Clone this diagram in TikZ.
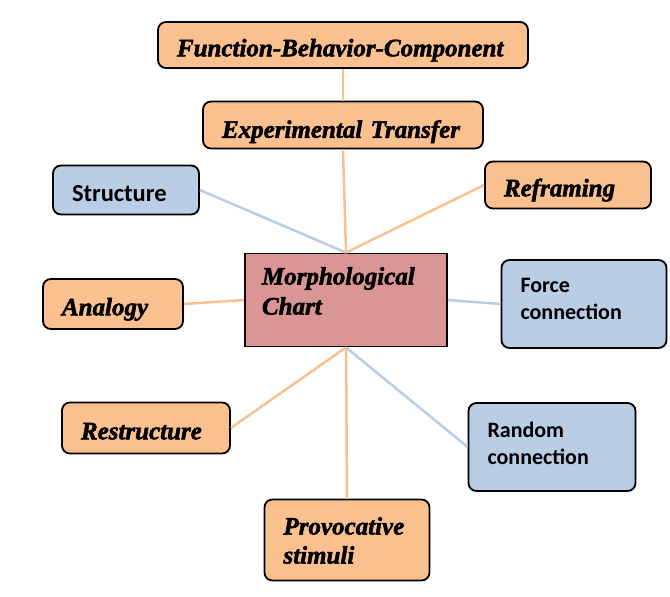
\documentclass[tikz,border=0pt]{standalone}
\usepackage{fontspec}
\setmainfont{Liberation Serif}[BoldItalicFeatures={FakeBold=2}]
\newfontfamily\calibri{Carlito}
\usetikzlibrary{positioning}
\definecolor{peach}{HTML}{FAC090}
\definecolor{steel}{HTML}{B9CDE5}
\definecolor{rose}{HTML}{D99694}

\begin{document}
\begin{tikzpicture}[
  x=1pt,y=-1pt,
  box/.style={draw=black,line width=1.8pt,rounded corners=8pt,align=left,
              inner xsep=19pt,inner ysep=0pt},
  oneline/.style={text height=27pt,text depth=4.5pt},
  method/.style={box,fill=peach,
                 font=\bfseries\itshape\fontsize{25}{29}\selectfont},
  link/.style={box,fill=steel,font=\calibri\bfseries\fontsize{22}{27}\selectfont},
  hub/.style={box,rounded corners=0pt,fill=rose,inner xsep=17pt,
              font=\bfseries\itshape\fontsize{25}{30}\selectfont},
  warm/.style={draw=peach,line width=2.5pt},
  cool/.style={draw=steel,line width=2.5pt}
]
\useasboundingbox (0,0) rectangle (670,597);

\node[hub,text width=168pt,minimum height=93pt,text height=18pt,
  text depth=49pt] (chart) at (346,300) {Morphological\\Chart};

\node[method,oneline,text width=332pt,minimum height=46pt] (fbc) at (343,45)
  {Function-Behavior-Component};
\node[method,oneline,text width=242pt,minimum height=47pt,text height=30pt]
  (transfer) at (343,125) {Experimental Transfer};
\node[link,oneline,text width=108pt,minimum height=49pt,
  font=\calibri\bfseries\fontsize{24.5}{28}\selectfont] (structure)
  at (126,190) {Structure};
\node[method,oneline,text width=128pt,minimum height=47pt] (reframing)
  at (568,185) {Reframing};
\node[method,oneline,text width=102pt,minimum height=50pt] (analogy)
  at (113,304) {Analogy};
\node[link,text width=127pt,minimum height=88pt,text height=18pt,
  text depth=42pt] (force) at (584,304) {Force\\connection};
\node[method,oneline,text width=130pt,minimum height=51pt] (restructure)
  at (146,428) {Restructure};
\node[link,text width=129pt,minimum height=88pt,text height=18pt,
  text depth=38pt] (random) at (552,447) {Random\\connection};
\node[method,text width=127pt,minimum height=81pt,text height=18pt,
  text depth=29pt] (provocative) at (347,540) {Provocative\\stimuli};

% spokes meet at the top and bottom middle of the chart
\draw[warm] (fbc.south) -- (transfer.north);
\draw[warm] (transfer.south) -- (chart.north);
\draw[cool] (structure.east) -- (chart.north);
\draw[warm] (reframing.west) -- (chart.north);
\draw[warm] (analogy.east) -- (chart.west);
\draw[cool] (force.west) -- (chart.east);
\draw[warm] (chart.south) -- (restructure.east);
\draw[warm] (chart.south) -- (provocative.north);
\draw[cool] (chart.south) -- (random.west);
\end{tikzpicture}
\end{document}
